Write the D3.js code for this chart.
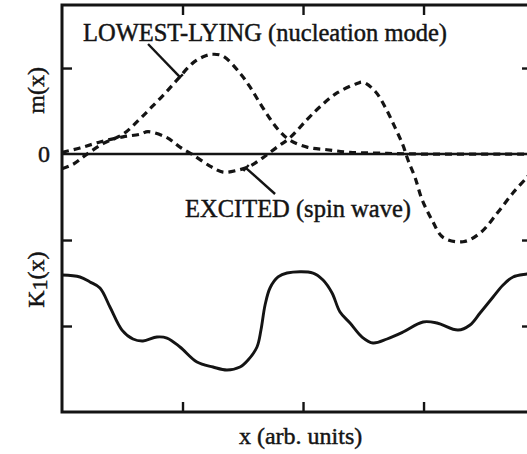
<!DOCTYPE html>
<html>
<head>
<meta charset="utf-8">
<script src="https://cdn.jsdelivr.net/npm/d3@7"></script>
<style>
html,body{margin:0;padding:0;background:#fff;}
svg{display:block;}
</style>
</head>
<body>
<svg id="chart" width="527" height="454"></svg>
<script>
// ---- data (x in arbitrary units, values on a shared vertical scale) ----
const xTicks = [1, 2, 3];
const yTicks = [1, 0, -1, -2];
const yTickLabels = {"0": "0"};

const xLowest = [0, 0.091, 0.199, 0.340, 0.506, 0.647, 0.747, 0.871, 0.979, 1.087, 1.187, 1.253, 1.336, 1.477, 1.560, 1.643, 1.726, 1.809, 1.892, 2.033, 2.199, 2.390, 2.639, 2.971, 3.9];
const mLowest = [-0.17, -0.12, -0.01, 0.12, 0.23, 0.41, 0.55, 0.73, 0.90, 1.06, 1.14, 1.16, 1.14, 0.94, 0.78, 0.59, 0.41, 0.26, 0.16, 0.08, 0.05, 0.02, 0.01, 0.0, 0.0];

const xExcited = [0, 0.149, 0.315, 0.506, 0.647, 0.714, 0.871, 0.979, 1.087, 1.228, 1.336, 1.452, 1.560, 1.660, 1.784, 1.892, 2.033, 2.141, 2.282, 2.448, 2.498, 2.598, 2.680, 2.763, 2.830, 2.871, 2.929, 2.988, 3.071, 3.162, 3.328, 3.469, 3.610, 3.743, 3.859, 3.900];
const mExcited = [0.02, 0.07, 0.14, 0.20, 0.23, 0.26, 0.19, 0.08, -0.01, -0.14, -0.21, -0.19, -0.14, -0.05, 0.08, 0.19, 0.40, 0.55, 0.71, 0.82, 0.835, 0.73, 0.55, 0.31, 0.10, -0.07, -0.27, -0.53, -0.77, -0.97, -1.02, -0.92, -0.69, -0.45, -0.27, -0.20];

const xK = [0, 0.149, 0.232, 0.315, 0.398, 0.498, 0.589, 0.672, 0.788, 0.871, 0.979, 1.120, 1.253, 1.369, 1.477, 1.544, 1.618, 1.651, 1.685, 1.726, 1.793, 1.867, 2.083, 2.166, 2.241, 2.307, 2.390, 2.490, 2.581, 2.697, 2.830, 2.996, 3.112, 3.286, 3.386, 3.469, 3.577, 3.660, 3.743, 3.859, 3.900];
const kVals = [-1.407, -1.430, -1.488, -1.558, -1.779, -2.047, -2.151, -2.174, -2.128, -2.140, -2.244, -2.419, -2.477, -2.512, -2.477, -2.395, -2.244, -2.047, -1.756, -1.558, -1.430, -1.384, -1.384, -1.465, -1.616, -1.837, -1.965, -2.128, -2.198, -2.151, -2.070, -1.953, -1.965, -2.047, -1.988, -1.849, -1.663, -1.523, -1.430, -1.395, -1.384];

// annotations: label anchor and pointer line (data coordinates)
const annLowest = {text: "LOWEST-LYING (nucleation mode)", x: 0.174, y: 1.314, from: [0.714, 1.279], to: [0.979, 0.895]};
const annExcited = {text: "EXCITED (spin wave)", x: 1.021, y: -0.733, from: [1.768, -0.465], to: [1.527, -0.163]};

// ---- layout ----
const mLeft = 62, mRight = 532, mTop = 5, mBottom = 412;
const FONT = "'Liberation Serif', 'Times New Roman', serif";
const svg = d3.select("#chart");

const x = d3.scaleLinear().domain([0, 3.9]).range([mLeft, mRight]);
const y = d3.scaleLinear().domain([-3, 1.733]).range([mBottom, mTop]);

svg.append("defs").append("clipPath").attr("id", "plotclip")
  .append("rect").attr("x", mLeft).attr("y", mTop).attr("width", mRight - mLeft).attr("height", mBottom - mTop);

const ink = "#141414";

// zero line
svg.append("line")
  .attr("x1", x(0)).attr("x2", x(3.9)).attr("y1", y(0)).attr("y2", y(0))
  .attr("stroke", ink).attr("stroke-width", 2.4);

// ticks on four sides via d3 axes (inward)
const tickLen = 10;
function styleAxis(g) {
  g.select(".domain").remove();
  g.selectAll(".tick line").attr("stroke", ink).attr("stroke-width", 2.4);
  g.selectAll(".tick text").remove();
}
svg.append("g").attr("transform", `translate(0,${mBottom})`)
  .call(d3.axisBottom(x).tickValues(xTicks).tickSize(-tickLen)).call(styleAxis);
svg.append("g").attr("transform", `translate(0,${mTop})`)
  .call(d3.axisTop(x).tickValues(xTicks).tickSize(-tickLen)).call(styleAxis);
svg.append("g").attr("transform", `translate(${mLeft},0)`)
  .call(d3.axisLeft(y).tickValues(yTicks.filter(v => v !== 0)).tickSize(-tickLen)).call(styleAxis);
svg.append("g").attr("transform", `translate(${mRight},0)`)
  .call(d3.axisRight(y).tickValues(yTicks.filter(v => v !== 0)).tickSize(-tickLen)).call(styleAxis);

function txt(sel) {
  return sel.style("font-family", FONT).style("fill", ink)
    .style("stroke", ink).style("stroke-width", "0.45px");
}

// y tick labels
svg.append("g").selectAll("text").data(yTicks.filter(v => yTickLabels[String(v)] !== undefined))
  .join("text")
  .attr("x", mLeft - 12).attr("y", d => y(d))
  .attr("dy", "0.35em").attr("text-anchor", "end")
  .style("font-size", "24px")
  .text(d => yTickLabels[String(d)])
  .call(txt);

// curves
const line = d3.line().x(d => x(d[0])).y(d => y(d[1])).curve(d3.curveCatmullRom.alpha(0.5));
const plot = svg.append("g").attr("clip-path", "url(#plotclip)");

plot.append("path").datum(d3.zip(xK, kVals))
  .attr("d", line).attr("fill", "none").attr("stroke", ink).attr("stroke-width", 2.9)
  .attr("stroke-linejoin", "round");

plot.append("path").datum(d3.zip(xLowest, mLowest))
  .attr("d", line).attr("fill", "none").attr("stroke", ink).attr("stroke-width", 3.2)
  .attr("stroke-dasharray", "7,5");

plot.append("path").datum(d3.zip(xExcited, mExcited))
  .attr("d", line).attr("fill", "none").attr("stroke", ink).attr("stroke-width", 3.2)
  .attr("stroke-dasharray", "7,5");

// frame
svg.append("rect")
  .attr("x", mLeft).attr("y", mTop).attr("width", mRight - mLeft).attr("height", mBottom - mTop)
  .attr("fill", "none").attr("stroke", ink).attr("stroke-width", 3);

// annotations with T-capped pointers
function pointer(a) {
  const x1 = x(a.from[0]), y1 = y(a.from[1]), x2 = x(a.to[0]), y2 = y(a.to[1]);
  svg.append("line").attr("x1", x1).attr("y1", y1).attr("x2", x2).attr("y2", y2)
    .attr("stroke", ink).attr("stroke-width", 2.4);
  const dx = x2 - x1, dy = y2 - y1, L = Math.hypot(dx, dy);
  const px = -dy / L * 4, py = dx / L * 4;
  svg.append("line").attr("x1", x2 - px).attr("y1", y2 - py).attr("x2", x2 + px).attr("y2", y2 + py)
    .attr("stroke", ink).attr("stroke-width", 2.4);
}
pointer(annLowest);
pointer(annExcited);

[annLowest, annExcited].forEach(a => {
  svg.append("text").attr("x", x(a.x)).attr("y", y(a.y))
    .style("font-size", "24.5px").text(a.text).call(txt);
});

// axis titles
svg.append("text")
  .attr("x", x(1.98)).attr("y", 444)
  .attr("text-anchor", "middle").style("font-size", "24px")
  .text("x (arb. units)").call(txt);

svg.append("text")
  .attr("transform", `translate(44,${y(0.74)}) rotate(-90)`)
  .attr("text-anchor", "middle").style("font-size", "24px")
  .text("m(x)").call(txt);

const kt = svg.append("text")
  .attr("transform", `translate(44,${y(-1.46)}) rotate(-90)`)
  .attr("text-anchor", "middle").style("font-size", "24px").call(txt);
kt.append("tspan").text("K");
kt.append("tspan").style("font-size", "22px").attr("dy", 3).text("1");
kt.append("tspan").attr("dy", -3).text("(x)");
</script>
</body>
</html>
